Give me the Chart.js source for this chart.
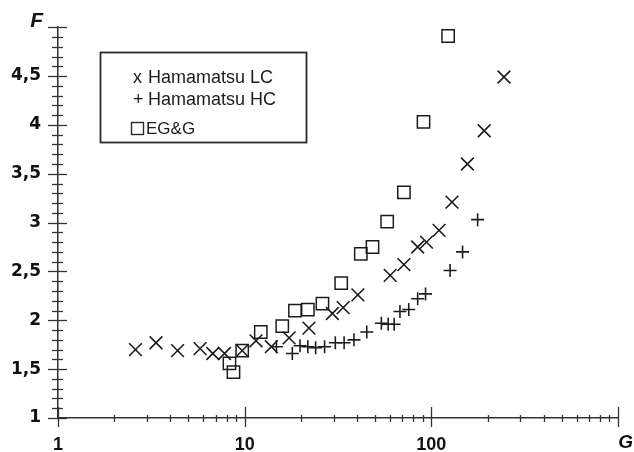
<!DOCTYPE html>
<html>
<head>
<meta charset="utf-8">
<script src="https://cdn.jsdelivr.net/npm/chart.js@4.4.0/dist/chart.umd.min.js"></script>
<style>
  html, body { margin: 0; padding: 0; background: #fff; }
</style>
</head>
<body>
<canvas id="chart" width="634" height="452"></canvas>
<script>
// series names, as in the legend box
const seriesNames = ['Hamamatsu LC', 'Hamamatsu HC', 'EG&G'];
const legendSymbols = ['x', '+', 'square'];

// Hamamatsu LC (x marks)
const lcG = [2.6, 3.35, 4.37, 5.77, 6.75, 7.8, 9.7, 11.5, 13.9, 17.3, 22.1, 29.5, 33.7, 40.4, 60.2, 71.3, 84.5, 94.2, 110, 129, 156, 192, 245];
const lcF = [1.70, 1.77, 1.69, 1.71, 1.66, 1.66, 1.69, 1.79, 1.73, 1.82, 1.92, 2.07, 2.13, 2.26, 2.46, 2.57, 2.75, 2.80, 2.92, 3.21, 3.60, 3.94, 4.49];

// Hamamatsu HC (+ marks)
const hcG = [14.8, 18.0, 19.8, 21.8, 24.0, 26.8, 30.6, 34.1, 38.5, 45.1, 54.0, 58.7, 63.2, 67.9, 75.7, 84.5, 93.1, 126, 147, 177];
const hcF = [1.73, 1.66, 1.74, 1.73, 1.72, 1.73, 1.77, 1.77, 1.80, 1.88, 1.97, 1.96, 1.96, 2.09, 2.11, 2.22, 2.27, 2.51, 2.70, 3.03];

// EG&G (open squares)
const eggG = [8.29, 8.71, 9.7, 12.2, 15.9, 18.6, 21.8, 26.1, 32.9, 41.9, 48.4, 58.0, 71.3, 90.8, 123];
const eggF = [1.56, 1.47, 1.69, 1.88, 1.94, 2.10, 2.11, 2.17, 2.38, 2.68, 2.75, 3.01, 3.31, 4.03, 4.91];

// axis ticks and labels
const xLabelValues = [1, 10, 100];
const xTickLabels = ['1', '10', '100'];
const yLabelValues = [1, 1.5, 2, 2.5, 3, 3.5, 4, 4.5];
const yTickLabels = ['1', '1,5', '2', '2,5', '3', '3,5', '4', '4,5'];
const xTitle = 'G';
const yTitle = 'F';

const xTickValues = [];
for (let d = 1; d <= 100; d *= 10) {
  for (let k = 1; k < 10; k++) xTickValues.push(k * d);
}
xTickValues.push(1000);
const yTickValues = [];
for (let i = 10; i <= 50; i++) yTickValues.push(i / 10);

const ink = '#1c1c1c';
const toPoints = (xs, ys) => xs.map((v, i) => ({ x: v, y: ys[i] }));

const decor = {
  id: 'decor',
  afterDraw(chart) {
    const { ctx, chartArea: a, scales: { x, y } } = chart;
    ctx.save();
    ctx.strokeStyle = '#333';
    ctx.lineWidth = 1.3;
    x.ticks.forEach(t => {
      const px = Math.round(x.getPixelForValue(t.value)) + 0.5;
      const lg = Math.log10(t.value);
      const major = Math.abs(lg - Math.round(lg)) < 1e-6;
      ctx.beginPath();
      ctx.moveTo(px, a.bottom - (major ? 11 : 3));
      ctx.lineTo(px, a.bottom + (major ? 9 : 4));
      ctx.stroke();
    });
    y.ticks.forEach(t => {
      const py = Math.round(y.getPixelForValue(t.value)) + 0.5;
      const major = Math.abs(t.value * 2 - Math.round(t.value * 2)) < 1e-6;
      ctx.beginPath();
      ctx.moveTo(a.left - (major ? 10 : 6), py);
      ctx.lineTo(a.left + (major ? 9 : 5), py);
      ctx.stroke();
    });

    // axis titles
    ctx.fillStyle = '#111';
    ctx.textBaseline = 'middle';
    ctx.textAlign = 'right';
    ctx.font = 'italic bold 21px "Liberation Sans"';
    ctx.fillText(yTitle, 43, 21);
    ctx.font = 'italic bold 19px "Liberation Sans"';
    ctx.fillText(xTitle, 633, 443);

    // legend box
    ctx.strokeStyle = '#2a2a2a';
    ctx.lineWidth = 1.8;
    ctx.strokeRect(100.5, 52.5, 206, 90);
    const rows = [78, 100, 128];
    ctx.textAlign = 'left';
    ctx.fillStyle = ink;
    seriesNames.forEach((name, i) => {
      const sym = legendSymbols[i];
      if (sym === 'square') {
        ctx.lineWidth = 1.4;
        ctx.strokeRect(131.5, rows[i] - 5.5, 12, 12);
        ctx.font = '17px "Liberation Sans Narrow", "Liberation Sans"';
        ctx.fillText(name, 146, rows[i] + 1);
      } else {
        ctx.font = '18px "Liberation Sans"';
        ctx.fillText(sym, 133, rows[i]);
        ctx.fillText(name, 148, rows[i]);
      }
    });
    ctx.restore();
  }
};

new Chart(document.getElementById('chart'), {
  type: 'scatter',
  data: {
    datasets: [
      {
        label: seriesNames[0],
        data: toPoints(lcG, lcF),
        pointStyle: 'crossRot',
        pointRadius: 9,
        borderColor: ink,
        borderWidth: 1.6,
        backgroundColor: 'transparent'
      },
      {
        label: seriesNames[1],
        data: toPoints(hcG, hcF),
        pointStyle: 'cross',
        pointRadius: 6.5,
        borderColor: ink,
        borderWidth: 1.6,
        backgroundColor: 'transparent'
      },
      {
        label: seriesNames[2],
        data: toPoints(eggG, eggF),
        pointStyle: 'rect',
        pointRadius: 8.7,
        borderColor: ink,
        borderWidth: 1.5,
        backgroundColor: 'transparent'
      }
    ]
  },
  options: {
    responsive: false,
    animation: false,
    devicePixelRatio: 1,
    layout: { padding: { top: 20, right: 3, left: 0, bottom: 0 } },
    plugins: {
      legend: { display: false },
      tooltip: { enabled: false }
    },
    elements: { point: { hoverRadius: 9 } },
    scales: {
      x: {
        type: 'logarithmic',
        min: 1,
        max: 1000,
        grid: { display: false, drawTicks: false },
        border: { display: true, color: '#333', width: 1.5 },
        afterBuildTicks: s => { s.ticks = xTickValues.map(v => ({ value: v })); },
        afterFit: s => { s.height = 34; },
        ticks: {
          autoSkip: false,
          maxRotation: 0,
          padding: 16,
          color: '#111',
          font: { family: 'Liberation Sans', size: 18, weight: 'bold' },
          callback: v => {
            const i = xLabelValues.findIndex(l => Math.abs(l - v) < 1e-9);
            return i >= 0 ? xTickLabels[i] : '';
          }
        }
      },
      y: {
        type: 'linear',
        min: 1,
        max: 5,
        grid: { display: false, drawTicks: false },
        border: { display: true, color: '#333', width: 1.5 },
        afterBuildTicks: s => { s.ticks = yTickValues.map(v => ({ value: v })); },
        afterFit: s => { s.width = 58; },
        ticks: {
          autoSkip: false,
          padding: 17,
          color: '#111',
          font: { family: 'DejaVu Sans', size: 17, weight: 'bold' },
          callback: v => {
            const i = yLabelValues.findIndex(l => Math.abs(l - v) < 1e-9);
            return i >= 0 ? yTickLabels[i] : '';
          }
        }
      }
    }
  },
  plugins: [decor]
});
</script>
</body>
</html>
